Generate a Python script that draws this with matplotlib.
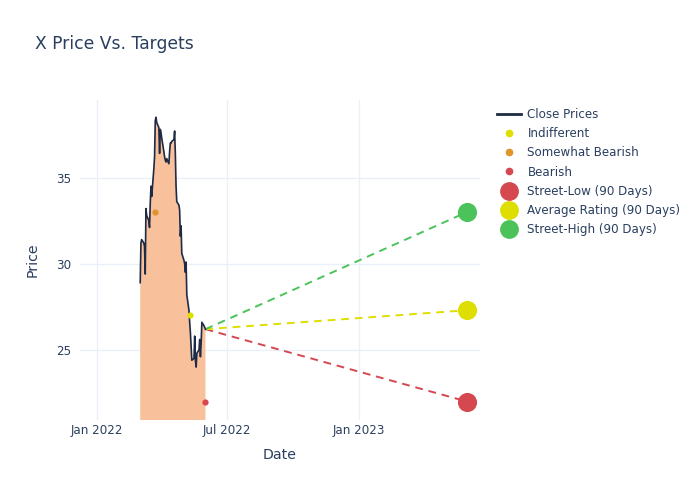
import numpy as np
import pandas as pd
import matplotlib.pyplot as plt
import matplotlib.dates as mdates
from matplotlib.lines import Line2D

plt.rcParams['font.family'] = 'DejaVu Sans'

# ---- data ----
close_prices = [28.9, 31.2, 31.4, 31.2, 31.0, 29.4, 33.2, 32.8, 32.5, 32.1,
                33.5, 34.5, 33.9, 35.5, 36.2, 38.3, 38.5, 38.2, 37.9, 36.4,
                37.8, 37.6, 37.3, 36.5, 36.2, 36.0, 35.9, 36.1, 35.8, 36.5,
                37.0, 37.0, 37.1, 37.2, 37.7, 36.4, 34.5, 33.6, 33.4, 33.1,
                31.6, 32.2, 30.6, 30.2, 30.0, 29.5, 30.1, 28.2, 27.3, 26.6,
                26.0, 25.2, 24.4, 24.5, 25.8, 24.4, 24.0, 24.8, 25.0, 25.6,
                24.6, 25.4, 26.6, 26.4, 26.3, 26.2]
close_dates = pd.bdate_range('2022-03-02', periods=len(close_prices))

rating_labels = ['Indifferent', 'Somewhat Bearish', 'Bearish']
rating_dates = pd.to_datetime(['2022-05-10', '2022-03-23', '2022-05-31'])
rating_prices = [27.0, 33.0, 22.0]

target_labels = ['Street-Low (90 Days)', 'Average Rating (90 Days)', 'Street-High (90 Days)']
target_date = pd.Timestamp('2023-06-01')
target_prices = [22.0, 27.3, 33.0]

# ---- styles ----
text_c = '#2a3f5f'
grid_c = '#ebf0f8'
line_c = '#1f2a44'
fill_c = '#f9c09c'
rating_colors = ['#dede00', '#e0952a', '#d6484f']
target_colors = ['#d6484f', '#dede00', '#4cc35a']

fig = plt.figure(figsize=(7, 5), dpi=100)
ax = fig.add_axes([80 / 700, 80 / 500, 400 / 700, 320 / 500])

ax.fill_between(close_dates, close_prices, 0, color=fill_c, lw=0, zorder=1)
ax.plot(close_dates, close_prices, color=line_c, lw=1.2, zorder=3)

last_date = close_dates[-1]
last_price = close_prices[-1]
for p, c in zip(target_prices, target_colors):
    ax.plot([last_date, target_date], [last_price, p], color=c, lw=1.4,
            ls=(0, (4, 3)), zorder=2)

for d, p, c in zip(rating_dates, rating_prices, rating_colors):
    ax.scatter([d], [p], s=20, color=c, zorder=4, lw=0)

for p, c in zip(target_prices, target_colors):
    ax.scatter([target_date], [p], s=190, color=c, zorder=4, lw=0)

ax.set_xlim(pd.Timestamp('2021-12-08'), pd.Timestamp('2023-06-19'))
ax.set_ylim(20.93, 39.5)
ax.set_yticks([25, 30, 35])
ax.xaxis.set_major_locator(mdates.MonthLocator(bymonth=[1, 7]))
ax.xaxis.set_major_formatter(mdates.DateFormatter('%b %Y'))

ax.grid(True, color=grid_c, lw=1, zorder=0)
ax.set_axisbelow(True)
for s in ax.spines.values():
    s.set_visible(False)
ax.tick_params(length=0, colors=text_c, labelsize=8.6, pad=6)
ax.tick_params(axis='x', pad=3)

ax.set_xlabel('Date', color=text_c, fontsize=10.2, labelpad=8)
ax.set_ylabel('Price', color=text_c, fontsize=10.2, labelpad=12)

fig.text(35 / 700, 1 - 44 / 500, 'X Price Vs. Targets', color=text_c,
         fontsize=12.3, va='center', ha='left')

handles = [Line2D([], [], color=line_c, lw=2)]
for c in rating_colors:
    handles.append(Line2D([], [], ls='', marker='o', ms=4.5, color=c, mec=c))
for c in target_colors:
    handles.append(Line2D([], [], ls='', marker='o', ms=12.5, color=c, mec=c))
labels = ['Close Prices'] + rating_labels + target_labels
leg = fig.legend(handles, labels, loc='upper left',
                 bbox_to_anchor=(497 / 700, 1 - 108 / 500), frameon=False,
                 fontsize=8.6, handlelength=2.0, handletextpad=0.55,
                 labelspacing=0.52, borderaxespad=0, borderpad=0)
for t in leg.get_texts():
    t.set_color(text_c)

fig.savefig('out.png', dpi=100)
